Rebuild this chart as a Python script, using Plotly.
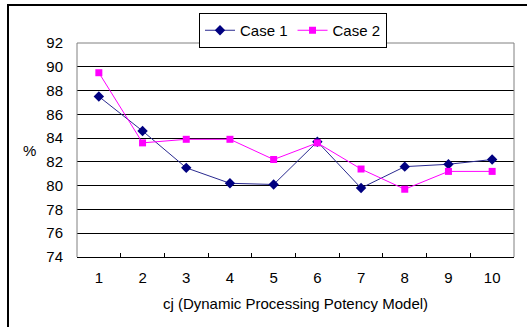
import plotly.graph_objects as go

categories = [1, 2, 3, 4, 5, 6, 7, 8, 9, 10]
case1 = [87.5, 84.6, 81.5, 80.2, 80.1, 83.7, 79.8, 81.6, 81.8, 82.2]
case2 = [89.5, 83.6, 83.9, 83.9, 82.2, 83.6, 81.4, 79.7, 81.2, 81.2]
y_ticks = [74, 76, 78, 80, 82, 84, 86, 88, 90, 92]

FONT = "Liberation Sans, Arial, sans-serif"
FS = 15
W, H = 527, 327
L, R, T, B = 77, 13, 43, 70
pw, ph = W - L - R, H - T - B

def px2paper_x(px):
    return (px - L) / pw

def px2paper_y(py):
    return (H - B - py) / ph

xcat = [str(c) for c in categories]

fig = go.Figure()
fig.add_trace(go.Scatter(
    x=xcat, y=case1, name="Case 1", mode="lines+markers",
    line=dict(color="#2a2a90", width=1),
    marker=dict(symbol="diamond", size=8, color="#000080"),
))
fig.add_trace(go.Scatter(
    x=xcat, y=case2, name="Case 2", mode="lines+markers",
    line=dict(color="#FF00FF", width=1),
    marker=dict(symbol="square", size=7, color="#FF00FF"),
))

fig.update_layout(
    width=W, height=H,
    margin=dict(l=L, r=R, t=T, b=B, pad=0),
    paper_bgcolor="white", plot_bgcolor="white",
    font=dict(family=FONT, size=FS, color="black"),
    showlegend=True,
    legend=dict(
        orientation="h",
        x=px2paper_x(199), y=px2paper_y(13),
        xanchor="left", yanchor="top",
        bordercolor="black", borderwidth=1,
        bgcolor="white",
        font=dict(family=FONT, size=FS, color="black"),
        itemwidth=30,
        tracegroupgap=0,
    ),
    xaxis=dict(
        type="category",
        tickson="boundaries",
        ticks="inside", ticklen=4, tickcolor="black", tickwidth=1,
        showline=True, linecolor="black", linewidth=1,
        showgrid=False, zeroline=False,
        ticklabelstandoff=7,
        tickfont=dict(family=FONT, size=FS, color="black"),
        title=dict(text="cj (Dynamic Processing Potency Model)",
                   font=dict(family=FONT, size=FS, color="black"),
                   standoff=13),
        range=[-0.5, 9.5],
    ),
    yaxis=dict(
        range=[74, 92],
        tickvals=y_ticks,
        ticktext=[str(v) for v in y_ticks],
        showgrid=True, gridcolor="black", gridwidth=1,
        zeroline=False,
        showline=False,
        ticks="",
        ticklabelstandoff=13,
        tickfont=dict(family=FONT, size=FS, color="black"),
    ),
)

# plot area frame (gray) on top, left, right
for (x0, y0, x1, y1) in [(0, 1, 1, 1), (0, 0, 0, 1), (1, 0, 1, 1)]:
    fig.add_shape(type="line", xref="paper", yref="paper",
                  x0=x0, y0=y0, x1=x1, y1=y1,
                  line=dict(color="#808080", width=1), layer="above")

# outer chart border (top and left visible)
fig.add_shape(type="rect", xref="paper", yref="paper",
              x0=px2paper_x(8), y0=px2paper_y(5),
              x1=px2paper_x(540), y1=px2paper_y(340),
              line=dict(color="black", width=2), layer="above")

fig.add_annotation(text="%", xref="paper", yref="paper",
                   x=px2paper_x(29), y=px2paper_y(150),
                   xanchor="center", yanchor="middle",
                   showarrow=False, font=dict(family=FONT, size=FS, color="black"))

fig.write_html("out.html")
